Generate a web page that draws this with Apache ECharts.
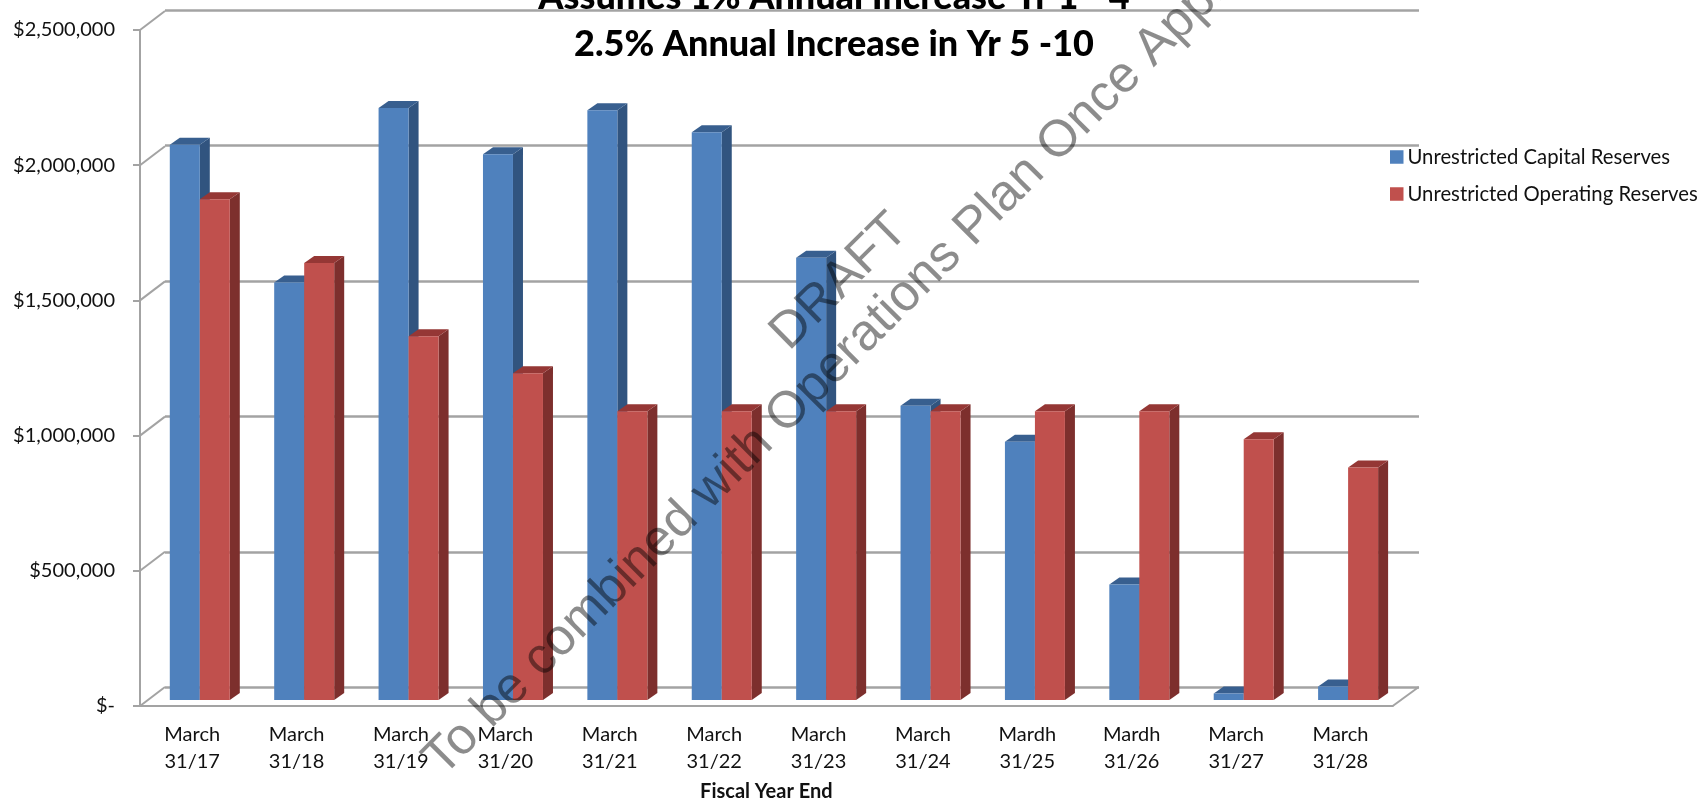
<!DOCTYPE html>
<html>
<head>
<meta charset="utf-8">
<title>Unrestricted Reserves</title>
<script src="https://cdn.jsdelivr.net/npm/echarts@6/dist/echarts.min.js"></script>
<style>html,body{margin:0;padding:0;background:#fff;overflow:hidden}#chart{width:1703px;height:804px}</style>
</head>
<body>
<div id="chart"></div>
<script>
// Year-end labels
const categories = ['March\n31/17','March\n31/18','March\n31/19','March\n31/20','March\n31/21','March\n31/22',
  'March\n31/23','March\n31/24','Mardh\n31/25','Mardh\n31/26','March\n31/27','March\n31/28'];
// Reserve balances, dollars
const capitalReserves = [2053000,1544000,2189000,2018000,2181000,2100000,1636000,1088000,955000,427000,24000,50000];
const operatingReserves = [1852000,1616000,1345000,1208000,1068000,1068000,1068000,1068000,1068000,1068000,964000,860000];
const valueTicks = [0,500000,1000000,1500000,2000000,2500000];
const titleLines = ['Assumes 1% Annual Increase Yr 1 - 4','2.5% Annual Increase in Yr 5 -10'];
const xAxisTitle = 'Fiscal Year End';
const seriesNames = ['Unrestricted Capital Reserves','Unrestricted Operating Reserves'];
const draftMark = 'DRAFT';
const planMark = 'To be combined with Operations Plan Once Approved';

const FONT = 'Lato, "Open Sans", sans-serif';
const GRID_GRAY = '#a3a3a3';
const BAR_W = 30, DEPTH_X = 10, DEPTH_Y = 7;
const WALL_X = 25, WALL_Y = 19;

// One extruded column: front face, lid and right-hand side, from the bar plane's scales.
function columnRenderer(faceColor, topColor, sideColor, slot) {
  return function (params, api) {
    const top = api.coord([api.value(0), api.value(1)]);
    const base = api.coord([api.value(0), 0]);
    const l = top[0] + slot * BAR_W, r = l + BAR_W;
    return {
      type: 'group',
      children: [
        { type: 'polygon', shape: { points: [[r, top[1]], [r + DEPTH_X, top[1] - DEPTH_Y], [r + DEPTH_X, base[1] - DEPTH_Y], [r, base[1]]] }, style: { fill: sideColor } },
        { type: 'polygon', shape: { points: [[l, top[1]], [l + DEPTH_X, top[1] - DEPTH_Y], [r + DEPTH_X, top[1] - DEPTH_Y], [r, top[1]]] }, style: { fill: topColor } },
        { type: 'rect', shape: { x: l, y: top[1], width: BAR_W, height: base[1] - top[1] }, style: { fill: faceColor } }
      ]
    };
  };
}

// Receding edges of the side wall and the floor's right edge.
function wallRenderer(params, api) {
  const p = api.coord([0, api.value(1)]);
  const left = params.coordSys.x;
  const children = [
    { type: 'line', shape: { x1: left, y1: p[1], x2: left + WALL_X, y2: p[1] - WALL_Y }, style: { stroke: GRID_GRAY, lineWidth: 2 } }
  ];
  if (api.value(1) === 0) {
    const right = left + params.coordSys.width;
    children.push({ type: 'line', shape: { x1: right, y1: p[1], x2: right + WALL_X + 1, y2: p[1] - WALL_Y }, style: { stroke: GRID_GRAY, lineWidth: 2 } });
  }
  return { type: 'group', children };
}

const moneyLabel = v => v === 0 ? '$-' : '$' + v.toLocaleString('en-US');
const hiddenAxis = { show: false };

const chart = echarts.init(document.getElementById('chart'));
chart.setOption({
  animation: false,
  backgroundColor: '#fff',
  title: {
    text: titleLines.join('\n'),
    left: 829, top: -31, textAlign: 'center', z: 8,
    textStyle: { fontFamily: FONT, fontSize: 36, fontWeight: 900, color: '#000', lineHeight: 47 }
  },
  legend: {
    orient: 'vertical', left: 1385, top: 142, itemWidth: 13.5, itemHeight: 13.5, itemGap: 17, icon: 'rect',
    data: seriesNames,
    textStyle: { fontFamily: FONT, fontSize: 20.3, color: '#111', padding: [0, 0, 0, -1] }
  },
  grid: [
    // front edge carrying the axes
    { left: 140, top: 30, width: 1252.7, height: 676, outerBoundsMode: 'none' },
    // back wall
    { left: 165, top: 10, width: 1254, height: 677.6, outerBoundsMode: 'none' },
    // plane the columns stand on
    { left: 147.6, top: 24, width: 1252.7, height: 676, outerBoundsMode: 'none' }
  ],
  xAxis: [
    {
      gridIndex: 0, type: 'category', data: categories,
      name: xAxisTitle, nameLocation: 'middle', nameGap: 76,
      nameTextStyle: { fontFamily: FONT, fontSize: 20, fontWeight: 'bold', color: '#111' },
      axisLine: { lineStyle: { color: GRID_GRAY, width: 2 } },
      axisTick: { length: 6, lineStyle: { color: GRID_GRAY, width: 2 } },
      axisLabel: { fontFamily: FONT, fontSize: 20, color: '#111', lineHeight: 27, margin: 15, interval: 0 }
    },
    { gridIndex: 1, type: 'category', data: categories, ...hiddenAxis },
    { gridIndex: 2, type: 'category', data: categories, ...hiddenAxis }
  ],
  yAxis: [
    {
      gridIndex: 0, type: 'value', min: 0, max: 2500000, interval: 500000,
      axisLine: { show: true, lineStyle: { color: GRID_GRAY, width: 2 } },
      axisTick: { show: true, length: 7, lineStyle: { color: GRID_GRAY, width: 2 } },
      axisLabel: { fontFamily: FONT, fontSize: 20, color: '#111', margin: 25, formatter: moneyLabel },
      splitLine: { show: false }
    },
    {
      gridIndex: 1, type: 'value', min: 0, max: 2500000, interval: 500000,
      axisLine: { show: false }, axisTick: { show: false }, axisLabel: { show: false },
      splitLine: { show: true, lineStyle: { color: GRID_GRAY, width: 2.5 } }
    },
    { gridIndex: 2, type: 'value', min: 0, max: 2500000, interval: 500000, ...hiddenAxis }
  ],
  series: [
    {
      type: 'custom', xAxisIndex: 0, yAxisIndex: 0, silent: true, z: 1,
      data: valueTicks.map(v => [0, v]),
      encode: { x: 0, y: 1 },
      renderItem: wallRenderer
    },
    {
      name: seriesNames[0], type: 'custom', xAxisIndex: 2, yAxisIndex: 2, z: 3,
      itemStyle: { color: '#4f81bd' },
      data: capitalReserves.map((v, i) => [i, v]),
      encode: { x: 0, y: 1 },
      renderItem: columnRenderer('#4f81bd', '#385f8f', '#31547f', -1)
    },
    {
      name: seriesNames[1], type: 'custom', xAxisIndex: 2, yAxisIndex: 2, z: 4,
      itemStyle: { color: '#c0504d' },
      data: operatingReserves.map((v, i) => [i, v]),
      encode: { x: 0, y: 1 },
      renderItem: columnRenderer('#c0504d', '#953735', '#7d2f2d', 0)
    }
  ],
  // Diagonal watermarks across the plot
  graphic: [
    {
      type: 'text', x: 797, y: 360, rotation: 0.78, z: 100, silent: true,
      style: { text: draftMark, fontFamily: '"Liberation Sans", sans-serif', fontSize: 51, fill: 'rgba(0,0,0,0.45)', textAlign: 'left', textVerticalAlign: 'bottom' }
    },
    {
      type: 'text', x: 451, y: 786, rotation: 0.785, z: 100, silent: true,
      style: { text: planMark, fontFamily: '"Liberation Sans", sans-serif', fontSize: 51.5, fill: 'rgba(0,0,0,0.45)', textAlign: 'left', textVerticalAlign: 'bottom' }
    }
  ]
});
</script>
</body>
</html>
